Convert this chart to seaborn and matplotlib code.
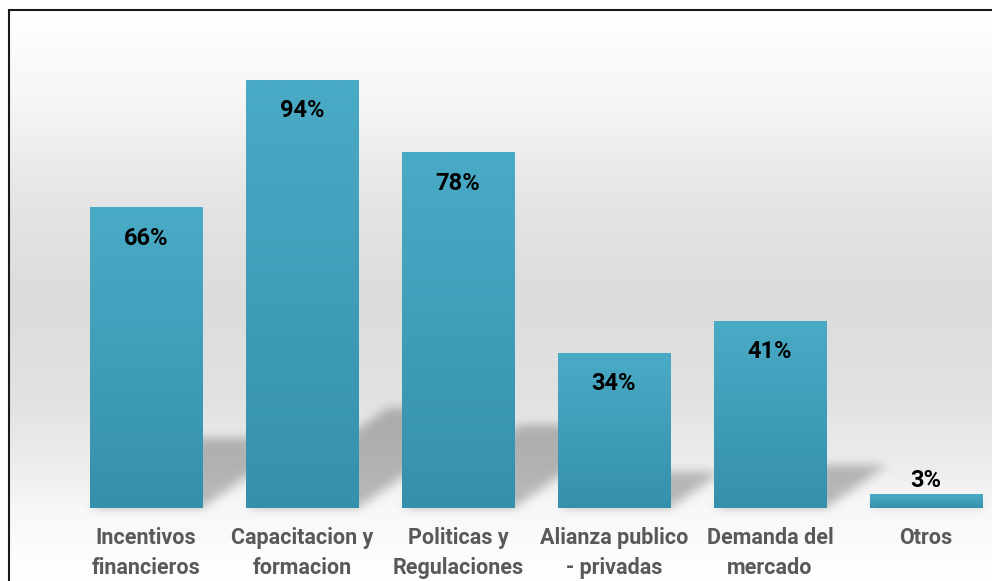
import numpy as np
import pandas as pd
import matplotlib
matplotlib.use("Agg")
import matplotlib.pyplot as plt
import seaborn as sns
from matplotlib.path import Path
from matplotlib.colors import LinearSegmentedColormap
from matplotlib.patches import Rectangle

# data
categories = ["Incentivos\nfinancieros", "Capacitacion y\nformacion", "Politicas y\nRegulaciones",
              "Alianza publico\n- privadas", "Demanda del\nmercado", "Otros"]
values = [66, 94, 78, 34, 41, 3]
value_labels = ["66%", "94%", "78%", "34%", "41%", "3%"]

df = pd.DataFrame({"factor": categories, "pct": values})

W, H = 992, 581
sns.set_theme(style="white")
plt.rcParams["font.family"] = ["Roboto", "Liberation Sans", "DejaVu Sans"]

fig = plt.figure(figsize=(W / 100, H / 100), dpi=100)

# background layer (gradient + shadows)
bg = fig.add_axes([0, 0, 1, 1], zorder=0)
bg.set_xlim(0, W)
bg.set_ylim(0, H)
bg.axis("off")

rows = np.arange(H)
stops_y = [10, 100, 200, 300, 400, 470, 510, 581]
stops_v = [255, 246, 229, 220, 226, 238, 248, 255]
col = np.interp(rows, stops_y, stops_v) / 255
img = np.ones((H, W, 3)) * col[:, None, None]
img[:10, :, :] = 1
img[:, :9, :] = 1
bg.imshow(img, extent=[0, W, 0, H], origin="upper", aspect="auto", zorder=0)

# main chart
ax = fig.add_axes([68 / W, 73 / H, 936 / W, 455.3 / H], zorder=1)
ax.patch.set_alpha(0)
sns.barplot(data=df, x="factor", y="pct", color="#3e9db8", width=0.718,
            saturation=1, linewidth=0, ax=ax)
bars = list(ax.patches)

# gradient fill on bars
bar_cmap = LinearSegmentedColormap.from_list("bar", ["#3590ab", "#4aabc6"])
grad = np.linspace(0, 1, 256).reshape(-1, 1)
for p in bars:
    p.set_edgecolor("none")
    x0, w, h = p.get_x(), p.get_width(), p.get_height()
    ax.imshow(grad, extent=[x0, x0 + w, 0, h], origin="lower", cmap=bar_cmap,
              aspect="auto", zorder=2)

ax.set_xlim(-0.5, 5.5)
ax.set_ylim(0, 100)

# perspective shadows behind the bars
yy, xx = np.mgrid[0:H, 0:W] + 0.5
pts = np.column_stack([xx.ravel(), yy.ravel()])
mask = np.zeros(H * W)
for p in bars:
    (x0, yb), (x1, yt) = ax.transData.transform(
        [[p.get_x(), 0], [p.get_x() + p.get_width(), p.get_height()]])
    dy = 0.233 * (yt - yb)
    dx = 1.42 * dy
    poly = Path([(x0, yb), (x1, yb), (x1 + dx, yb + dy), (x0 + dx, yb + dy)])
    mask = np.maximum(mask, poly.contains_points(pts).astype(float))
mask = mask.reshape(H, W)
sig = 5
k = np.exp(-0.5 * (np.arange(-15, 16) / sig) ** 2)
k /= k.sum()
mask = np.apply_along_axis(lambda r: np.convolve(r, k, mode="same"), 1, mask)
mask = np.apply_along_axis(lambda c: np.convolve(c, k, mode="same"), 0, mask)
shadow = np.zeros((H, W, 4))
shadow[:, :, 3] = 0.25 * mask
bg.imshow(shadow, extent=[0, W, 0, H], origin="lower", aspect="auto", zorder=1)

# value labels
for p, lab, v in zip(bars, value_labels, values):
    cx = p.get_x() + p.get_width() / 2
    off = -22 if v > 10 else 10
    ax.annotate(lab, (cx, v), xytext=(0, off), textcoords="offset points",
                ha="center", va="center", fontsize=17, fontweight="bold",
                color="black", zorder=5)

ax.set_xlabel("")
ax.set_ylabel("")
ax.set_yticks([])
for s in ax.spines.values():
    s.set_visible(False)
ax.tick_params(axis="x", length=0, pad=14)
for t in ax.get_xticklabels():
    t.set_fontsize(15.5)
    t.set_fontweight("bold")
    t.set_color("#595959")
    t.set_linespacing(1.45)

# outer border
fig.patches.append(Rectangle((9 / W, -0.1), 2, 571 / H + 0.1, transform=fig.transFigure,
                             fill=False, edgecolor="#1a1a1a", linewidth=1.5, zorder=10))

fig.savefig("out.png", dpi=100)
